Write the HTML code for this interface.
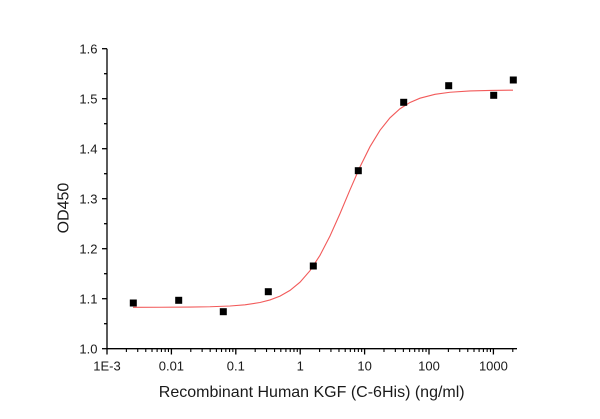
<!DOCTYPE html>
<html>
<head>
<meta charset="utf-8">
<style>
html,body{margin:0;padding:0;background:#fff;}
svg{display:block;}
text{font-family:"Liberation Sans",Arial,sans-serif;fill:#1a1a1a;}
</style>
</head>
<body>
<svg width="600" height="419" viewBox="0 0 600 419" xmlns="http://www.w3.org/2000/svg">
<rect width="600" height="419" fill="#fff"/>
<!-- axes -->
<g stroke="#000" stroke-width="1.3" fill="none">
<line x1="107" y1="48.7" x2="107" y2="349.3"/>
<line x1="106.4" y1="348.7" x2="517" y2="348.7"/>
<!-- y major ticks -->
<line x1="102" y1="48.7" x2="107" y2="48.7"/>
<line x1="102" y1="98.7" x2="107" y2="98.7"/>
<line x1="102" y1="148.7" x2="107" y2="148.7"/>
<line x1="102" y1="198.7" x2="107" y2="198.7"/>
<line x1="102" y1="248.7" x2="107" y2="248.7"/>
<line x1="102" y1="298.7" x2="107" y2="298.7"/>
<line x1="102" y1="348.7" x2="107" y2="348.7"/>
<!-- y minor ticks -->
<line x1="104" y1="73.7" x2="107" y2="73.7"/>
<line x1="104" y1="123.7" x2="107" y2="123.7"/>
<line x1="104" y1="173.7" x2="107" y2="173.7"/>
<line x1="104" y1="223.7" x2="107" y2="223.7"/>
<line x1="104" y1="273.7" x2="107" y2="273.7"/>
<line x1="104" y1="323.7" x2="107" y2="323.7"/>
<!-- x major ticks -->
<line x1="107" y1="348.7" x2="107" y2="354.5"/>
<line x1="171.4" y1="348.7" x2="171.4" y2="354.5"/>
<line x1="235.8" y1="348.7" x2="235.8" y2="354.5"/>
<line x1="300.2" y1="348.7" x2="300.2" y2="354.5"/>
<line x1="364.6" y1="348.7" x2="364.6" y2="354.5"/>
<line x1="429" y1="348.7" x2="429" y2="354.5"/>
<line x1="493.4" y1="348.7" x2="493.4" y2="354.5"/>
</g>
<!-- x minor ticks: offsets 64.4*log10(k) for k=2..9 : 19.39 30.73 38.77 45.01 50.11 54.42 58.16 61.45 -->
<g stroke="#000" stroke-width="1.1">
<path d="M126.39 348.7v3.3M137.73 348.7v3.3M145.77 348.7v3.3M152.01 348.7v3.3M157.11 348.7v3.3M161.42 348.7v3.3M165.16 348.7v3.3M168.45 348.7v3.3
M190.79 348.7v3.3M202.13 348.7v3.3M210.17 348.7v3.3M216.41 348.7v3.3M221.51 348.7v3.3M225.82 348.7v3.3M229.56 348.7v3.3M232.85 348.7v3.3
M255.19 348.7v3.3M266.53 348.7v3.3M274.57 348.7v3.3M280.81 348.7v3.3M285.91 348.7v3.3M290.22 348.7v3.3M293.96 348.7v3.3M297.25 348.7v3.3
M319.59 348.7v3.3M330.93 348.7v3.3M338.97 348.7v3.3M345.21 348.7v3.3M350.31 348.7v3.3M354.62 348.7v3.3M358.36 348.7v3.3M361.65 348.7v3.3
M383.99 348.7v3.3M395.33 348.7v3.3M403.37 348.7v3.3M409.61 348.7v3.3M414.71 348.7v3.3M419.02 348.7v3.3M422.76 348.7v3.3M426.05 348.7v3.3
M448.39 348.7v3.3M459.73 348.7v3.3M467.77 348.7v3.3M474.01 348.7v3.3M479.11 348.7v3.3M483.42 348.7v3.3M487.16 348.7v3.3M490.45 348.7v3.3
M512.79 348.7v3.3"/>
</g>
<!-- y labels -->
<g font-size="13" text-anchor="end">
<text x="97.5" y="53.3">1.6</text>
<text x="97.5" y="103.3">1.5</text>
<text x="97.5" y="153.3">1.4</text>
<text x="97.5" y="203.3">1.3</text>
<text x="97.5" y="253.3">1.2</text>
<text x="97.5" y="303.3">1.1</text>
<text x="97.5" y="353.3">1.0</text>
</g>
<!-- x labels -->
<g font-size="13" text-anchor="middle">
<text x="107" y="370.5">1E-3</text>
<text x="171.4" y="370.5">0.01</text>
<text x="235.8" y="370.5">0.1</text>
<text x="300.2" y="370.5">1</text>
<text x="364.6" y="370.5">10</text>
<text x="429" y="370.5">100</text>
<text x="493.4" y="370.5">1000</text>
</g>
<!-- titles -->
<text x="311.7" y="397" font-size="16" text-anchor="middle">Recombinant Human KGF (C-6His) (ng/ml)</text>
<text x="68.5" y="208" font-size="16" text-anchor="middle" transform="rotate(-90 68.5 208)">OD450</text>
<!-- fit curve -->
<polyline fill="none" stroke="#f25a5a" stroke-width="1.1" points="133,307.28 160,307.24 190,307.07 210,306.76 230,306.0 245,304.8 260,302.5 270,299.95 280,296.1 290,290.4 300,282.2 310,270.7 320,255.3 330,236.0 340,213.6 350,189.8 360,166.9 370,146.7 380,130.3 390,117.8 400,108.75 410,102.45 420,98.2 435,94.3 450,92.25 470,90.94 490,90.4 513,90.14"/>
<!-- data points -->
<g fill="#000">
<rect x="129.8" y="299.5" width="7" height="7"/>
<rect x="175.2" y="296.8" width="7" height="7"/>
<rect x="219.8" y="308.2" width="7" height="7"/>
<rect x="264.8" y="288.2" width="7" height="7"/>
<rect x="309.8" y="262.5" width="7" height="7"/>
<rect x="354.8" y="167.2" width="7" height="7"/>
<rect x="400.2" y="98.8" width="7" height="7"/>
<rect x="445.2" y="82.2" width="7" height="7"/>
<rect x="490.2" y="91.8" width="7" height="7"/>
<rect x="509.8" y="76.5" width="7" height="7"/>
</g>
</svg>
</body>
</html>
